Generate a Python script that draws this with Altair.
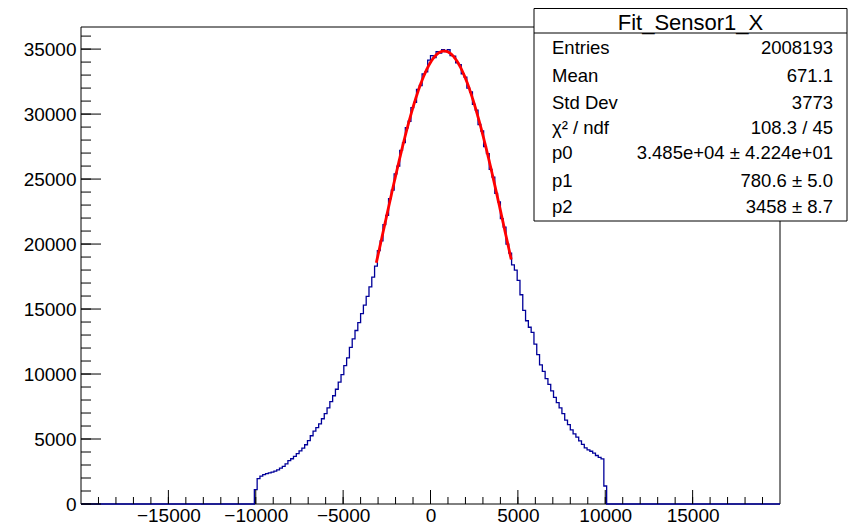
import altair as alt
import numpy as np
import pandas as pd

# ---------------- data ----------------
bin_width = 160
first_edge = -10080
x_range = [-20000, 20000]
y_max = 36700

counts = [
    1100, 1960, 2150, 2260, 2330, 2400, 2460, 2530, 2630, 2760,
    2890, 3080, 3330, 3480, 3670, 3880, 4090, 4300, 4560, 4870,
    5250, 5600, 5880, 6170, 6560, 6950, 7400, 7870, 8330, 8830,
    9380, 9950, 10640, 11250, 12050, 12700, 13350, 13950, 14650, 15300,
    15980, 16700, 17450, 18300,
    19500, 20250, 21500, 22200, 23500, 24150, 25400, 26000, 27200, 27800,
    28950, 29450, 30500, 30900, 31900, 32200, 33100, 33250, 34150, 34500,
    34350, 34800, 34700, 34950, 34800, 34950, 34500, 34450, 33950, 33800,
    33100, 32850, 32000, 31700, 30750, 30300, 29200, 28700, 27500, 26950,
    25750, 25150, 23900, 23250, 21950, 21300, 20000, 19300,
    18400, 18000, 17200, 16100, 14900, 14100, 13600, 13200, 12300, 11500,
    10700, 10200, 9650, 9200, 8700, 8200, 7800, 7400, 6950, 6450,
    6100, 5700, 5400, 5150, 4850, 4580, 4320, 4170, 4060, 3920,
    3730, 3580, 3470, 1385,
]

fit_p0, fit_p1, fit_p2 = 34850.0, 780.6, 3458.0
fit_range = [-3100, 4620]

stats_title = "Fit_Sensor1_X"
stats_labels = ["Entries", "Mean", "Std Dev", "χ² / ndf", "p0", "p1", "p2"]
stats_values = ["2008193", "671.1", "3773", "108.3 / 45",
                "3.485e+04 ± 4.224e+01", "780.6 ± 5.0", "3458 ± 8.7"]

x_labels = [-15000, -10000, -5000, 0, 5000, 10000, 15000]
y_labels = [0, 5000, 10000, 15000, 20000, 25000, 30000, 35000]
x_minor = list(range(-19000, 20000, 1000))
y_minor = list(range(0, 37000, 1000))

# ---------------- layout ----------------
W, H = 699, 477
FONT = "Liberation Sans"
box_x0, box_x1, box_y0, box_y1 = 453, 766, -18.5, 194
sep_y = 6
title_y = 2.5
row_y = [27, 55, 82, 107, 132, 160, 186]
label_x, value_x = 471, 752

# ---------------- tables ----------------
edges = [first_edge + bin_width * i for i in range(len(counts))]
hist_df = pd.DataFrame({
    "x": [x_range[0]] + edges + [first_edge + bin_width * len(counts), x_range[1]],
    "y": [0] + counts + [0, 0],
})
fx = np.linspace(fit_range[0], fit_range[1], 300)
fit_df = pd.DataFrame({"x": fx, "y": fit_p0 * np.exp(-0.5 * ((fx - fit_p1) / fit_p2) ** 2)})
one = pd.DataFrame({"a": [0]})

xs = alt.Scale(domain=x_range, nice=False, zero=False)
ys = alt.Scale(domain=[0, y_max], nice=False, zero=False)

x_axis = alt.Axis(values=x_labels, format="d", title=None, ticks=False, tickSize=0, domain=False,
                  grid=False, labelFontSize=19, labelFont=FONT, labelColor="black", labelPadding=2,
                  labelFlush=False, labelOverlap=False)
y_axis = alt.Axis(values=y_labels, format="d", title=None, ticks=False, tickSize=0, domain=False,
                  grid=False, labelFontSize=19, labelFont=FONT, labelColor="black", labelPadding=5,
                  labelFlush=False, labelOverlap=False)

frame = alt.Chart(one).mark_rect(filled=False, stroke="black", strokeWidth=1).encode(
    x=alt.value(0), x2=alt.value(W), y=alt.value(0), y2=alt.value(H))

hist = alt.Chart(hist_df).mark_line(interpolate="step-after", color="#000099", strokeWidth=1.3).encode(
    x=alt.X("x:Q", scale=xs, axis=x_axis),
    y=alt.Y("y:Q", scale=ys, axis=y_axis),
)

fit = alt.Chart(fit_df).mark_line(color="#ff0000", strokeWidth=2.8).encode(
    x=alt.X("x:Q", scale=xs, axis=x_axis), y=alt.Y("y:Q", scale=ys, axis=y_axis))

def xticks(vals, length):
    return alt.Chart(pd.DataFrame({"x": vals})).mark_rule(color="black", strokeWidth=1).encode(
        x=alt.X("x:Q", scale=xs, axis=x_axis), y=alt.value(H), y2=alt.value(H - length))

def yticks(vals, length):
    return alt.Chart(pd.DataFrame({"y": vals})).mark_rule(color="black", strokeWidth=1).encode(
        y=alt.Y("y:Q", scale=ys, axis=y_axis), x=alt.value(0), x2=alt.value(length))

box = alt.Chart(one).mark_rect(fill="white", stroke="black", strokeWidth=1).encode(
    x=alt.value(box_x0), x2=alt.value(box_x1), y=alt.value(box_y0), y2=alt.value(box_y1))
sep = alt.Chart(one).mark_rule(color="black", strokeWidth=1).encode(
    x=alt.value(box_x0), x2=alt.value(box_x1), y=alt.value(sep_y))
title = alt.Chart(one).mark_text(align="center", baseline="alphabetic", fontSize=22, font=FONT,
                                 color="black", text=stats_title).encode(
    x=alt.value((box_x0 + box_x1) / 2), y=alt.value(title_y))

texts = []
for i, (lab, val) in enumerate(zip(stats_labels, stats_values)):
    texts.append(alt.Chart(one).mark_text(align="left", baseline="alphabetic", fontSize=18.5,
                                          font=FONT, color="black", text=lab).encode(
        x=alt.value(label_x), y=alt.value(row_y[i])))
    texts.append(alt.Chart(one).mark_text(align="right", baseline="alphabetic", fontSize=18.5,
                                          font=FONT, color="black", text=val).encode(
        x=alt.value(value_x), y=alt.value(row_y[i])))

chart = alt.layer(
    frame, hist, fit,
    xticks(x_minor, 7), xticks(x_labels, 14),
    yticks(y_minor, 10), yticks(y_labels, 20),
    box, sep, title, *texts,
).properties(
    width=W, height=H,
    autosize="none",
    padding={"left": 73, "top": 19, "right": 68, "bottom": 26},
    background="white",
).configure_view(stroke=None)

chart.save("out.html", embed_options={"renderer": "svg", "actions": False})
